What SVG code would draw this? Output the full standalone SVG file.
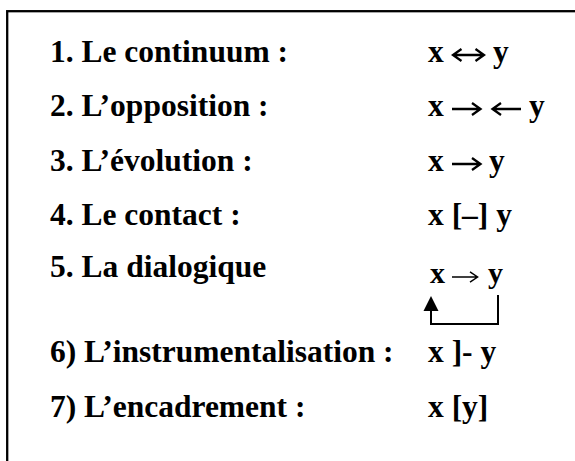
<svg xmlns="http://www.w3.org/2000/svg" width="575" height="461" viewBox="0 0 575 461">
<style>
  text { font-family: "Liberation Serif", "Times New Roman", serif; font-weight: bold; font-size: 31.5px; fill: #000; }
  .frame { fill: none; stroke: #000; stroke-width: 2.3; }
  .link { fill: none; stroke: #000; stroke-width: 2; }
  .arr { fill: none; stroke: #000; stroke-width: 2.3; stroke-linecap: butt; stroke-linejoin: miter; }
  .thin { stroke-width: 1.6; }
</style>
<defs>
  <path id="rarrow" d="M0 0 H28 M20 -6 L28.5 0 L20 6"/>
  <path id="larrow" d="M30 0 H1.5 M10 -6 L1.5 0 L10 6"/>
  <path id="darrow" d="M1.5 0 H31.5 M9.5 -6 L1 0 L9.5 6 M23.5 -6 L32 0 L23.5 6"/>
</defs>
<rect width="575" height="461" fill="#fff"/>
<rect class="frame" x="7.2" y="11.2" width="600" height="500"/>
<g id="row1">
  <text x="50" y="62">1. Le continuum :</text>
  <text x="428" y="62">x</text>
  <use href="#darrow" class="arr" x="452" y="55"/>
  <text x="493" y="62">y</text>
</g>
<g id="row2">
  <text x="50" y="116">2. L’opposition :</text>
  <text x="428" y="116">x</text>
  <use href="#rarrow" class="arr" x="452" y="109"/>
  <use href="#larrow" class="arr" x="491" y="109"/>
  <text x="529" y="116">y</text>
</g>
<g id="row3">
  <text x="50" y="171">3. L’évolution :</text>
  <text x="428" y="171">x</text>
  <use href="#rarrow" class="arr" x="452" y="164"/>
  <text x="489" y="171">y</text>
</g>
<g id="row4">
  <text x="50" y="225">4. Le contact :</text>
  <text x="428" y="225">x [–] y</text>
</g>
<g id="row5">
  <text x="50" y="277">5. La dialogique</text>
  <text x="430" y="283" style="font-size:30px">x</text>
  <use href="#rarrow" class="arr thin" x="452" y="277" transform="translate(452 277) scale(0.9 0.85) translate(-452 -277)"/>
  <text x="488" y="283" style="font-size:30px">y</text>
</g>
<g id="row6">
  <text x="50" y="362">6) L’instrumentalisation :</text>
  <text x="428" y="362">x ]- y</text>
</g>
<g id="row7">
  <text x="50" y="417">7) L’encadrement :</text>
  <text x="428" y="417">x [y]</text>
</g>
<g id="connectors">
  <path class="link" d="M498 295 V324 H431 V310"/>
  <polygon points="431,296 423.5,311 438.5,311" fill="#000"/>
</g>
</svg>
